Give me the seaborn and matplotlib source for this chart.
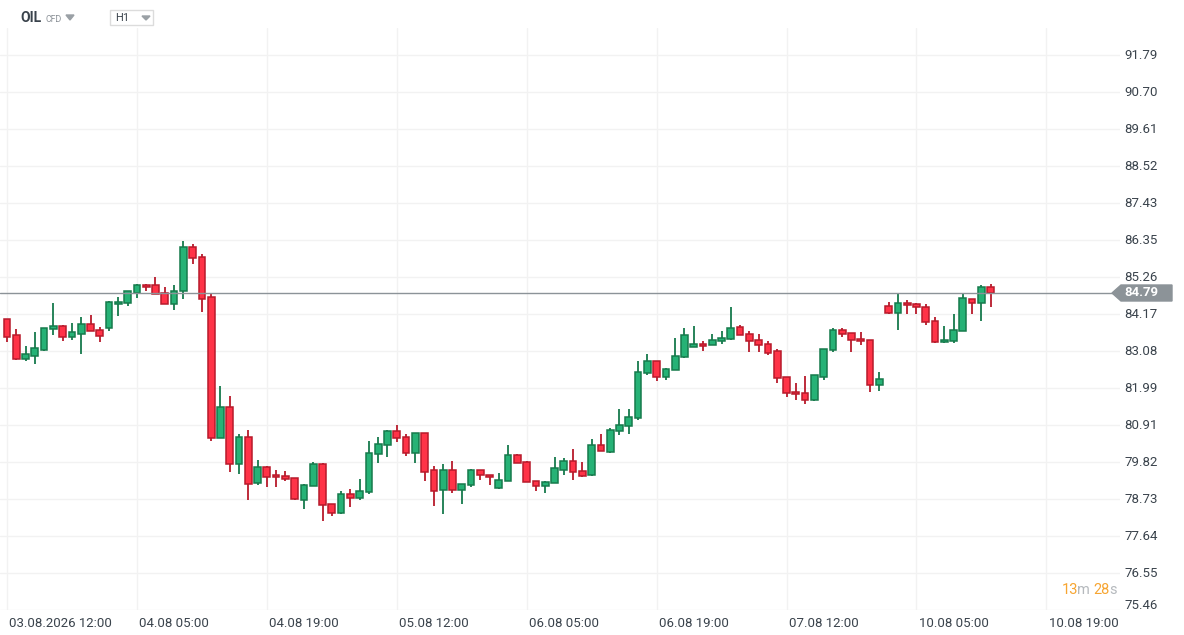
import numpy as np
import pandas as pd
import matplotlib
matplotlib.use("Agg")
import matplotlib.pyplot as plt
import matplotlib.patches as mpatches
import seaborn as sns

# OHLC (hourly candles, OIL CFD)
opens = [84.02, 83.55, 82.84, 82.95, 83.13, 83.73, 83.82, 83.49, 83.58, 83.87,
         83.70, 83.76, 84.46, 84.49, 84.80, 85.02, 85.02, 84.79, 84.46, 84.85,
         86.14, 85.85, 84.67, 80.52, 81.43, 79.76, 80.55, 79.20, 79.67, 79.43,
         79.40, 79.34, 78.70, 79.11, 79.76, 78.58, 78.31, 78.87, 78.75, 78.93,
         80.05, 80.31, 80.73, 80.55, 80.08, 80.67, 79.58, 78.99, 79.58, 78.99,
         79.14, 79.58, 79.43, 79.05, 79.26, 80.02, 79.81, 79.26, 79.11, 79.20,
         79.58, 79.84, 79.55, 79.43, 80.31, 80.13, 80.73, 80.87, 81.11, 82.43,
         82.79, 82.32, 82.52, 82.90, 83.20, 83.29, 83.26, 83.37, 83.43, 83.79,
         83.58, 83.40, 83.29, 83.08, 82.32, 81.87, 81.84, 81.64, 82.32, 83.11,
         83.70, 83.61, 83.43, 83.40, 82.08, 84.40, 84.20, 84.49, 84.46, 84.38,
         83.96, 83.35, 83.38, 83.67, 84.61, 84.49, 84.96]
highs = [84.03, 83.74, 83.24, 83.64, 83.77, 84.50, 83.85, 83.90, 84.08, 84.14,
         83.79, 84.56, 84.67, 84.86, 85.06, 85.05, 85.27, 84.97, 85.03, 86.33,
         86.23, 85.94, 84.77, 82.06, 81.77, 80.65, 80.77, 79.88, 79.71, 79.58,
         79.56, 79.34, 79.18, 79.81, 79.79, 78.58, 78.96, 79.02, 79.31, 80.43,
         80.55, 80.76, 80.90, 80.64, 80.67, 80.67, 79.71, 79.77, 79.85, 79.17,
         79.61, 79.60, 79.43, 79.50, 80.32, 80.06, 79.84, 79.26, 79.26, 79.97,
         79.94, 80.21, 79.82, 80.50, 80.65, 80.82, 81.38, 81.38, 82.80, 83.00,
         82.79, 82.58, 83.47, 83.77, 83.83, 83.38, 83.59, 83.68, 84.38, 83.86,
         83.67, 83.58, 83.38, 83.14, 82.32, 82.14, 82.34, 82.37, 83.14, 83.76,
         83.76, 83.61, 83.64, 83.40, 82.46, 84.52, 84.79, 84.58, 84.49, 84.46,
         84.08, 83.82, 84.17, 84.77, 84.61, 85.02, 85.05]
lows = [83.34, 82.82, 82.78, 82.72, 83.10, 83.57, 83.39, 83.42, 83.01, 83.67,
        83.36, 83.69, 84.13, 84.40, 84.66, 84.84, 84.76, 84.46, 84.29, 84.63,
        85.66, 84.25, 80.45, 80.52, 79.53, 79.48, 78.72, 79.16, 79.10, 79.10,
        79.26, 78.70, 78.45, 79.11, 78.10, 78.24, 78.28, 78.51, 78.70, 78.87,
        79.80, 79.98, 80.42, 80.01, 79.78, 79.25, 78.54, 78.30, 78.92, 78.60,
        79.08, 79.28, 79.14, 79.02, 79.26, 79.78, 79.23, 78.98, 78.92, 79.20,
        79.43, 79.28, 79.37, 79.40, 80.14, 80.10, 80.63, 80.66, 81.07, 82.37,
        82.20, 82.23, 82.52, 82.87, 83.20, 83.08, 83.26, 83.29, 83.40, 83.55,
        83.05, 83.05, 82.96, 82.14, 81.75, 81.64, 81.52, 81.61, 82.23, 83.05,
        83.49, 83.05, 83.26, 81.87, 81.90, 84.17, 83.70, 84.17, 84.17, 83.85,
        83.32, 83.32, 83.32, 83.67, 84.17, 83.96, 84.38]
closes = [83.51, 82.84, 82.99, 83.17, 83.76, 83.82, 83.49, 83.64, 83.87, 83.67,
          83.52, 84.52, 84.52, 84.85, 85.02, 84.96, 84.76, 84.46, 84.85, 86.14,
          85.82, 84.61, 80.52, 81.43, 79.76, 80.55, 79.17, 79.67, 79.37, 79.37,
          79.31, 78.73, 79.14, 79.76, 78.55, 78.31, 78.87, 78.75, 78.96, 80.08,
          80.34, 80.73, 80.52, 80.08, 80.67, 79.54, 78.96, 79.58, 78.99, 79.17,
          79.58, 79.43, 79.37, 79.28, 80.02, 79.78, 79.23, 79.11, 79.23, 79.64,
          79.84, 79.52, 79.40, 80.31, 80.14, 80.76, 80.90, 81.14, 82.46, 82.79,
          82.32, 82.55, 82.93, 83.55, 83.29, 83.23, 83.40, 83.46, 83.76, 83.55,
          83.37, 83.26, 83.02, 82.29, 81.84, 81.82, 81.64, 82.37, 83.14, 83.70,
          83.58, 83.40, 83.37, 82.08, 82.26, 84.20, 84.49, 84.43, 84.38, 83.93,
          83.35, 83.40, 83.70, 84.64, 84.49, 84.96, 84.79]

last_price = 84.79
y_ticks = [91.79, 90.70, 89.61, 88.52, 87.43, 86.35, 85.26, 84.17,
           83.08, 81.99, 80.91, 79.82, 78.73, 77.64, 76.55, 75.46]
x_tick_pos = [0, 14, 28, 42, 56, 70, 84, 98, 112]
x_tick_labels = ["03.08.2026 12:00", "04.08 05:00", "04.08 19:00", "05.08 12:00",
                 "06.08 05:00", "06.08 19:00", "07.08 12:00", "10.08 05:00",
                 "10.08 19:00"]

df = pd.DataFrame({"open": opens, "high": highs, "low": lows, "close": closes})
df["idx"] = np.arange(len(df))
df["up"] = df["close"] >= df["open"]

W, H = 1184, 635
GREEN, GREEN_E = "#26b276", "#167a4c"
RED, RED_E = "#ff3347", "#b81a2b"
TXT = "#3a434c"

sns.set_style("white")
plt.rcParams["font.family"] = ["Roboto", "DejaVu Sans"]

fig = plt.figure(figsize=(W / 100, H / 100), dpi=100)
ax = fig.add_axes([0, (H - 610) / H, 1120 / W, (610 - 28) / H])

spacing = 9.28
ax.set_xlim(-7 / spacing, (1120 - 7) / spacing)
ax.set_ylim(75.47, 92.59)

# grid
for v in y_ticks:
    ax.axhline(v, color="#f2f2f2", lw=1, zorder=0)
for p in x_tick_pos:
    ax.axvline(p, color="#f2f2f2", lw=1, zorder=0)

# candles
edge = np.where(df["up"], GREEN_E, RED_E)
fill = np.where(df["up"], GREEN, RED)
ax.vlines(df["idx"], df["low"], df["high"], colors=edge, lw=1.3, zorder=2)
body_lo = df[["open", "close"]].min(axis=1)
body_h = (df["close"] - df["open"]).abs().clip(lower=0.03)
ax.bar(df["idx"], body_h, bottom=body_lo, width=0.72, color=fill,
       edgecolor=edge, linewidth=1.1, zorder=3)

# current price line
ax.axhline(last_price, color="#8c9398", lw=1, zorder=4)

for s in ax.spines.values():
    s.set_visible(False)
ax.set_xticks([])
ax.set_yticks([])

# y labels on the right
for v in y_ticks:
    yy = v if v > 75.6 else v + 0.15
    ax.text(1124 / 1120, yy, f"{v:.2f}", transform=ax.get_yaxis_transform(),
            ha="left", va="center", fontsize=9.5, color=TXT, clip_on=False)

# x labels
for p, lab in zip(x_tick_pos, x_tick_labels):
    ax.text(p + 0.25, -0.012, lab, transform=ax.get_xaxis_transform(),
            ha="left", va="top", fontsize=9.5, color=TXT, clip_on=False)


def fx(x):
    return x / W


def fy(y):
    return 1 - y / H


# price tag
py = 293
tag = mpatches.Polygon([(fx(1112), fy(py)), (fx(1121), fy(py - 8)), (fx(1172), fy(py - 8)),
                        (fx(1172), fy(py + 8)), (fx(1121), fy(py + 8))],
                       closed=True, transform=fig.transFigure, color="#8c9398")
fig.patches.append(tag)
fig.text(fx(1124), fy(py), f"{last_price:.2f}", color="white", fontsize=9.5,
         fontweight="bold", ha="left", va="center")

# header
fig.text(fx(20), fy(18), "OIL", fontsize=10, fontweight="bold", color=TXT,
         ha="left", va="center")
fig.text(fx(45), fy(19), "CFD", fontsize=6.3, color="#8a9096", ha="left", va="center")
fig.patches.append(mpatches.Polygon([(fx(66), fy(15)), (fx(74), fy(15)), (fx(70), fy(20))],
                                    closed=True, transform=fig.transFigure, color="#9aa0a5"))
fig.patches.append(mpatches.Rectangle((fx(110), fy(25)), fx(43), 15 / H, transform=fig.transFigure,
                                      fill=False, edgecolor="#dcdcdc", lw=1))
fig.text(fx(115), fy(18), "H1", fontsize=8, color=TXT, ha="left", va="center")
fig.patches.append(mpatches.Polygon([(fx(142), fy(16)), (fx(150), fy(16)), (fx(146), fy(20))],
                                    closed=True, transform=fig.transFigure, color="#9aa0a5"))

# countdown
ORANGE, GRAY = "#f7a531", "#b5b9bd"
fig.text(fx(1062), fy(590), "13", color=ORANGE, fontsize=10.5, ha="left", va="center")
fig.text(fx(1077), fy(590), "m", color=GRAY, fontsize=10.5, ha="left", va="center")
fig.text(fx(1093), fy(590), "28", color=ORANGE, fontsize=10.5, ha="left", va="center")
fig.text(fx(1109), fy(590), "s", color=GRAY, fontsize=10.5, ha="left", va="center")

fig.savefig("out.png", dpi=100)
